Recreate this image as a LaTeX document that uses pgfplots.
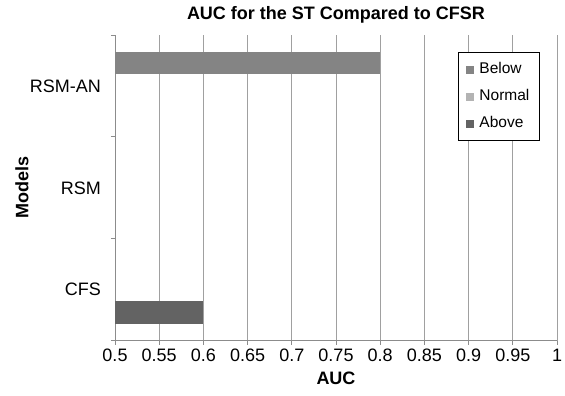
\documentclass[border=0pt]{standalone}
\usepackage{fontspec}
\setmainfont{Liberation Sans}
\usepackage{pgfplots}
\pgfplotsset{compat=1.18}
\definecolor{cBelow}{HTML}{848484}
\definecolor{cNormal}{HTML}{B3B3B3}
\definecolor{cAbove}{HTML}{636363}
\definecolor{gridgray}{HTML}{A0A0A0}
\definecolor{axisgray}{HTML}{8C8C8C}
\begin{document}
\begin{tikzpicture}
\useasboundingbox (0,0) rectangle (565bp,396bp);
\begin{axis}[
  at={(115bp,55.3bp)}, anchor=south west,
  scale only axis, width=442bp, height=305.7bp,
  xmin=0.5, xmax=1, ymin=-0.5, ymax=2.5,
  xbar, bar width=22.6bp,
  axis x line*=bottom, axis y line*=left,
  axis line style={draw=axisgray, line width=0.9bp},
  xtick={0.5,0.55,0.6,0.65,0.7,0.75,0.8,0.85,0.9,0.95,1},
  xticklabels={0.5,0.55,0.6,0.65,0.7,0.75,0.8,0.85,0.9,0.95,1},
  xmajorgrids, major grid style={draw=gridgray, line width=0.9bp},
  tick align=outside, major tick length=4bp,
  xtick style={draw=axisgray, line width=0.9bp},
  ytick={0,1,2}, yticklabels={CFS,RSM,RSM-AN},
  ytick style={draw=none},
  extra y ticks={-0.5,0.5,1.5,2.5}, extra y tick labels={},
  extra y tick style={ytick style={draw=axisgray, line width=0.9bp}, yticklabel=\empty},
  tick label style={font=\fontsize{18bp}{21bp}\selectfont, inner sep=0pt},
  xticklabel style={anchor=base, yshift=-17bp},
  yticklabel style={anchor=east, xshift=-10bp},
  title={AUC for the ST Compared to CFSR},
  title style={font=\bfseries\fontsize{18bp}{21bp}\selectfont, inner sep=0pt,
    at={(axis description cs:0.5,1.0311)}, anchor=base},
  xlabel={AUC},
  xlabel style={font=\bfseries\fontsize{18bp}{21bp}\selectfont, inner sep=0pt,
    at={(axis description cs:0.5,-0.144)}, anchor=base},
  ylabel={Models},
  ylabel style={font=\bfseries\fontsize{18bp}{21bp}\selectfont, inner sep=0pt,
    at={(axis description cs:-0.1962,0.5)}, anchor=base},
  legend style={at={(axis description cs:0.776,0.944)}, anchor=north west,
    draw=black, line width=0.9bp, fill=white,
    font=\fontsize{15.5bp}{18bp}\selectfont,
    inner xsep=8bp, inner ysep=8bp, row sep=9bp,
    nodes={inner sep=2bp, text height=11bp, text depth=3bp},
    /tikz/column sep=3bp},
  legend cell align=left,
  legend image code/.code={\fill[#1, draw=none] (0bp,-4bp) rectangle (8bp,4bp);},
]
\addplot[fill=cBelow, draw=none, bar shift=23bp] coordinates {(0.8,2)};
\addlegendentry{Below}
\addlegendimage{fill=cNormal, draw=none}
\addlegendentry{Normal}
\addplot[fill=cAbove, draw=none, bar shift=-23bp] coordinates {(0.6,0)};
\addlegendentry{Above}
\end{axis}
\end{tikzpicture}
\end{document}
